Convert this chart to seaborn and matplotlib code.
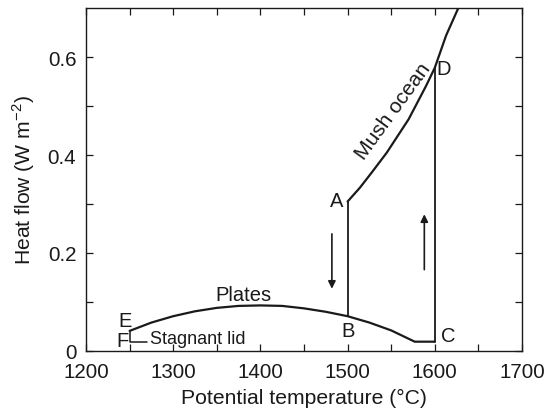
import numpy as np
import pandas as pd
import matplotlib
matplotlib.use("Agg")
import matplotlib.pyplot as plt
import seaborn as sns

# Datos
plates_t = [1250, 1275, 1300, 1325, 1350, 1375, 1400, 1425, 1450, 1475, 1500, 1525, 1550, 1577, 1600]
plates_q = [0.041, 0.058, 0.071, 0.081, 0.088, 0.092, 0.093, 0.092, 0.087, 0.080, 0.071, 0.058, 0.042, 0.019, 0.019]

mush_t = [1500, 1514, 1528, 1545, 1570, 1590, 1600, 1613, 1627]
mush_q = [0.305, 0.333, 0.365, 0.405, 0.473, 0.541, 0.578, 0.644, 0.700]

# tramos verticales A-B y C-D
jump_ab_t = [1500, 1500]
jump_ab_q = [0.305, 0.071]
jump_cd_t = [1600, 1600]
jump_cd_q = [0.019, 0.578]

# tapa estancada (E-F)
lid_t = [1250, 1250, 1270]
lid_q = [0.041, 0.018, 0.018]

# flechas (inicio, fin)
arrow_down = [(1482, 0.239), (1482, 0.127)]
arrow_up = [(1588, 0.166), (1588, 0.279)]

point_labels = ["A", "B", "C", "D", "E", "F"]
label_pos = [(1487, 0.307), (1500.5, 0.041), (1615.5, 0.031), (1610, 0.576), (1245, 0.062), (1242, 0.021)]

x_ticks = list(range(1200, 1701, 50))
y_ticks = [0, 0.1, 0.2, 0.3, 0.4, 0.5, 0.6]

sns.set_style("ticks")
plt.rcParams['font.family'] = ['Liberation Sans', 'DejaVu Sans']
plt.rcParams['mathtext.fontset'] = 'custom'
plt.rcParams['mathtext.rm'] = 'Liberation Sans'

ink = '#1a1a1a'

fig = plt.figure(figsize=(5.56, 4.10), dpi=100)
ax = fig.add_axes([0.1547, 0.1415, 0.7841, 0.8365])

df_plates = pd.DataFrame({'T': plates_t, 'Q': plates_q})
df_mush = pd.DataFrame({'T': mush_t, 'Q': mush_q})
sns.lineplot(data=df_plates, x='T', y='Q', ax=ax, color=ink, lw=1.6, sort=False)
sns.lineplot(data=df_mush, x='T', y='Q', ax=ax, color=ink, lw=1.6, sort=False)
ax.plot(jump_ab_t, jump_ab_q, color=ink, lw=1.3)
ax.plot(jump_cd_t, jump_cd_q, color=ink, lw=1.3)
ax.plot(lid_t, lid_q, color=ink, lw=1.1)

for start, end in [arrow_down, arrow_up]:
    ax.annotate('', xy=end, xytext=start,
                arrowprops=dict(arrowstyle='-|>', color=ink, lw=1.2,
                                mutation_scale=11, shrinkA=0, shrinkB=0))

for lab, (x, y) in zip(point_labels, label_pos):
    ax.text(x, y, lab, fontsize=14.5, ha='center', va='center', color=ink)

ax.text(1381, 0.116, 'Plates', fontsize=14.5, ha='center', va='center', color=ink)
ax.text(1552, 0.49, 'Mush ocean', fontsize=15, ha='center', va='center',
        rotation=54, color=ink)
ax.text(1273, 0.0245, 'Stagnant lid', fontsize=13, ha='left', va='center', color=ink)

ax.set_xlim(1200, 1700)
ax.set_ylim(0, 0.7)
ax.set_xticks(x_ticks)
ax.set_xticklabels([str(t) if t % 100 == 0 else '' for t in x_ticks])
ax.set_yticks(y_ticks)
ax.set_yticklabels(['0' if v == 0 else (f'{v:.1f}' if round(v * 10) % 2 == 0 else '') for v in y_ticks])
ax.tick_params(axis='both', direction='in', length=5, width=0.9, top=True, right=True,
               labelsize=14.8, colors=ink)
ax.tick_params(axis='y', pad=7)
ax.tick_params(axis='x', pad=8)
for s in ax.spines.values():
    s.set_visible(True)
    s.set_linewidth(1.0)
    s.set_color(ink)

ax.set_xlabel('Potential temperature (°C)', fontsize=15.2, color=ink, labelpad=5)
ax.set_ylabel('Heat flow (W m$^{-2}$)', fontsize=15.2, color=ink, labelpad=8)

fig.savefig('out.png', dpi=100)
